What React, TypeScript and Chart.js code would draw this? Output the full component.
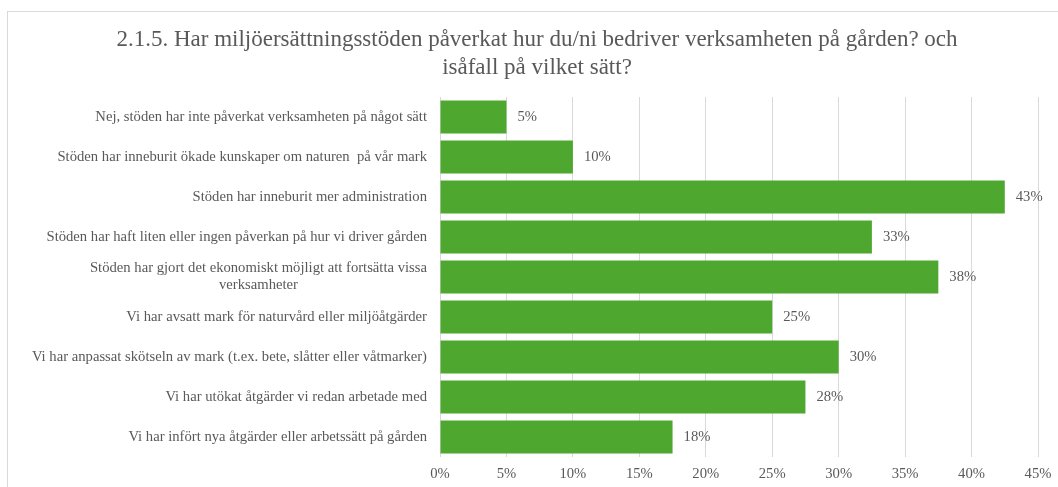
import React, { useEffect, useRef } from "react";
import { Chart, registerables } from "chart.js";

Chart.register(...registerables);

const titleLines = [
  "2.1.5. Har miljöersättningsstöden påverkat hur du/ni bedriver verksamheten på gården? och",
  "isåfall på vilket sätt?",
];

const categories: (string | string[])[] = [
  "Nej, stöden har inte påverkat verksamheten på något sätt",
  "Stöden har inneburit ökade kunskaper om naturen  på vår mark",
  "Stöden har inneburit mer administration",
  "Stöden har haft liten eller ingen påverkan på hur vi driver gården",
  ["Stöden har gjort det ekonomiskt möjligt att fortsätta vissa", "verksamheter"],
  "Vi har avsatt mark för naturvård eller miljöåtgärder",
  "Vi har anpassat skötseln av mark (t.ex. bete, slåtter eller våtmarker)",
  "Vi har utökat åtgärder vi redan arbetade med",
  "Vi har infört nya åtgärder eller arbetssätt på gården",
];

const values = [5, 10, 42.5, 32.5, 37.5, 25, 30, 27.5, 17.5];

const xTicksMin = 0;
const xTicksMax = 45;
const xTicksStep = 5;

const FONT = "'Liberation Serif', 'Times New Roman', serif";
const TEXT = "#595959";
const GRID = "#d9d9d9";
const GREEN = "#4ea72e";
const LABEL_SIZE = 14.67;

const W = 1060;
const H = 480;

export default function App() {
  const ref = useRef<HTMLCanvasElement | null>(null);

  useEffect(() => {
    if (!ref.current) return;

    const yLabelPlugin = {
      id: "yLabels",
      afterDraw(chart: any) {
        const ctx = chart.ctx;
        const yScale = chart.scales.y;
        const right = chart.chartArea.left - 13;
        ctx.save();
        ctx.font = `${LABEL_SIZE}px ${FONT}`;
        ctx.fillStyle = TEXT;
        ctx.textBaseline = "middle";
        ctx.textAlign = "center";
        categories.forEach((lab, i) => {
          const lines = Array.isArray(lab) ? lab : [lab];
          const widths = lines.map((l) => ctx.measureText(l).width);
          const bw = Math.max(...widths);
          const cx = right - bw / 2;
          const cy = yScale.getPixelForValue(i);
          const lh = 17;
          lines.forEach((l, k) => {
            const y = cy + (k - (lines.length - 1) / 2) * lh;
            ctx.fillText(l, cx, y);
          });
        });
        ctx.restore();
      },
    };

    const valueLabelPlugin = {
      id: "valueLabels",
      afterDatasetsDraw(chart: any) {
        const ctx = chart.ctx;
        const meta = chart.getDatasetMeta(0);
        ctx.save();
        ctx.font = `${LABEL_SIZE}px ${FONT}`;
        ctx.fillStyle = TEXT;
        ctx.textBaseline = "middle";
        ctx.textAlign = "left";
        meta.data.forEach((bar: any, i: number) => {
          ctx.fillText(Math.round(values[i]) + "%", bar.x + 11, bar.y);
        });
        ctx.restore();
      },
    };

    const chart = new Chart(ref.current, {
      type: "bar",
      data: {
        labels: categories,
        datasets: [
          {
            data: values,
            backgroundColor: GREEN,
            borderWidth: 0,
            barPercentage: 0.825,
            categoryPercentage: 1,
          },
        ],
      },
      options: {
        indexAxis: "y",
        animation: false,
        responsive: false,
        maintainAspectRatio: false,
        layout: { padding: { left: 28, right: 30, top: 0, bottom: 5 } },
        plugins: {
          legend: { display: false },
          tooltip: { enabled: false },
          title: {
            display: true,
            text: titleLines,
            color: TEXT,
            font: { family: FONT, size: 23, weight: "normal", lineHeight: 28 / 23 },
            padding: { top: 14, bottom: 15 },
          },
        },
        scales: {
          x: {
            min: xTicksMin,
            max: xTicksMax,
            ticks: {
              stepSize: xTicksStep,
              color: TEXT,
              font: { family: FONT, size: LABEL_SIZE },
              padding: 8,
              callback: (v: any) => v + "%",
            },
            grid: { color: GRID, lineWidth: 1, drawTicks: false },
            border: { display: false },
            afterFit: (s: any) => {
              s.height = 30;
            },
          },
          y: {
            ticks: { display: false },
            grid: { display: false },
            border: { display: false },
            afterFit: (s: any) => {
              s.width = 404;
            },
          },
        },
      },
      plugins: [yLabelPlugin, valueLabelPlugin],
    });

    return () => chart.destroy();
  }, []);

  return (
    <div
      style={{
        position: "fixed",
        left: 0,
        top: 0,
        width: 1058,
        height: 487,
        overflow: "hidden",
        background: "#fff",
      }}
    >
      <div
        style={{
          position: "absolute",
          left: 7,
          top: 11,
          width: W,
          height: H,
          border: `1px solid ${GRID}`,
          background: "#fff",
        }}
      >
        <canvas ref={ref} width={W} height={H} style={{ width: W, height: H, display: "block" }} />
      </div>
    </div>
  );
}
